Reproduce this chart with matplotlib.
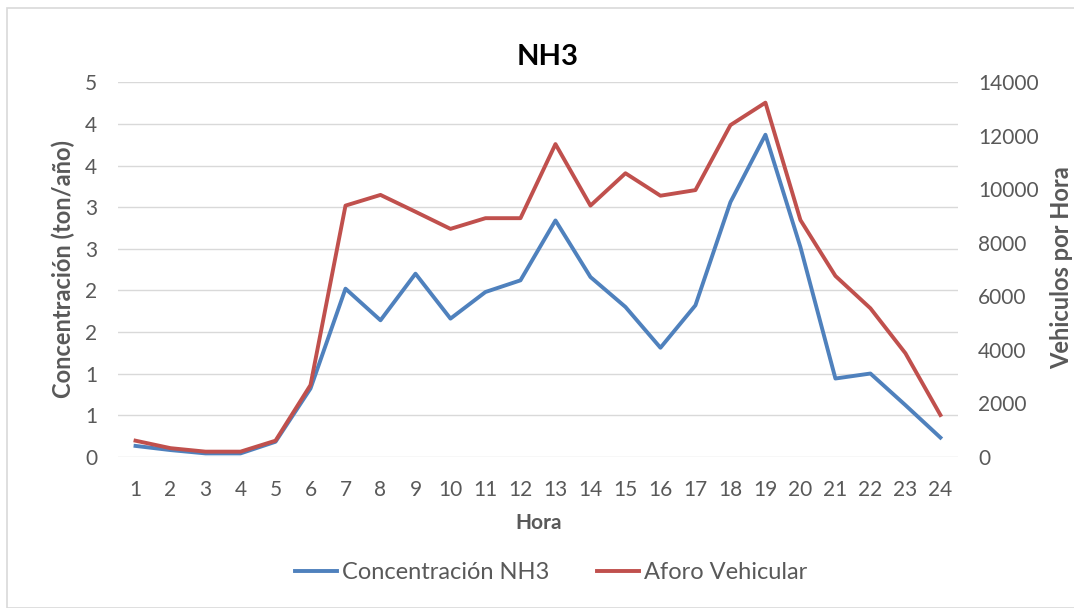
import numpy as np
import matplotlib.pyplot as plt
from matplotlib.patches import Rectangle

horas = list(range(1, 25))
concentracion = [0.13, 0.08, 0.04, 0.04, 0.18, 0.82, 2.02, 1.64, 2.20, 1.66, 1.98, 2.12,
                 2.84, 2.16, 1.80, 1.31, 1.82, 3.06, 3.87, 2.52, 0.94, 1.00, 0.62, 0.23]
aforo = [600, 320, 190, 190, 600, 2680, 9390, 9790, 9160, 8520, 8920, 8920,
         11690, 9390, 10600, 9760, 9970, 12400, 13240, 8850, 6760, 5550, 3870, 1560]

left_ticks = np.arange(0, 4.51, 0.5)
left_labels = [str(int(v + 0.5)) for v in left_ticks]
right_ticks = np.arange(0, 14001, 2000)

blue = "#4F81BD"
red = "#C0504D"
gray = "#595959"
plt.rcParams["font.family"] = ["Lato", "DejaVu Sans"]

fig = plt.figure(figsize=(10.74, 6.08), dpi=100)
# thin chart border like the Excel chart frame
fig.patches.append(Rectangle((7 / 1074, 0), 1.2, 1 - 8 / 608, transform=fig.transFigure,
                             fill=False, edgecolor="#D9D9D9", linewidth=1.2))

ax = fig.add_axes([0.1099, 0.2488, 0.782, 0.6158])
ax2 = ax.twinx()

ax.plot(horas, concentracion, color=blue, linewidth=2.8, label="Concentración NH3", zorder=3)
ax2.plot(horas, aforo, color=red, linewidth=2.8, label="Aforo Vehicular", zorder=3)

ax.set_xlim(0.5, 24.5)
ax.set_ylim(0, 4.5)
ax2.set_ylim(0, 14000)
ax.set_xticks(horas)
ax.set_yticks(left_ticks)
ax.set_yticklabels(left_labels)
ax2.set_yticks(right_ticks)
ax.grid(axis="y", color="#D9D9D9", linewidth=1)
ax.set_axisbelow(True)

for a in (ax, ax2):
    for s in a.spines.values():
        s.set_visible(False)
    a.tick_params(length=0, labelsize=15, labelcolor=gray)
ax.tick_params(axis="y", pad=15)
ax.tick_params(axis="x", pad=17)
ax2.tick_params(axis="y", pad=14.5)

fig.text(548 / 1074, 1 - 57 / 608, "NH3", fontsize=21, fontweight="bold",
         ha="center", va="center")
fig.text(539 / 1074, 1 - 523 / 608, "Hora", fontsize=15, fontweight="bold",
         color=gray, ha="center", va="center")
fig.text(63 / 1074, 1 - 269 / 608, "Concentración (ton/año)", rotation=90, fontsize=17,
         fontweight="bold", color=gray, ha="center", va="center")
fig.text(1062 / 1074, 1 - 268 / 608, "Vehiculos por Hora", rotation=90, fontsize=17,
         fontweight="bold", color=gray, ha="center", va="center")

h1, l1 = ax.get_legend_handles_labels()
h2, l2 = ax2.get_legend_handles_labels()
fig.legend(h1 + h2, l1 + l2, loc="center", bbox_to_anchor=(0.513, 0.058), ncol=2,
           frameon=False, fontsize=17, labelcolor=gray, handlelength=1.8,
           handletextpad=0.2, columnspacing=2.0)

plt.savefig("out.png", dpi=100)
